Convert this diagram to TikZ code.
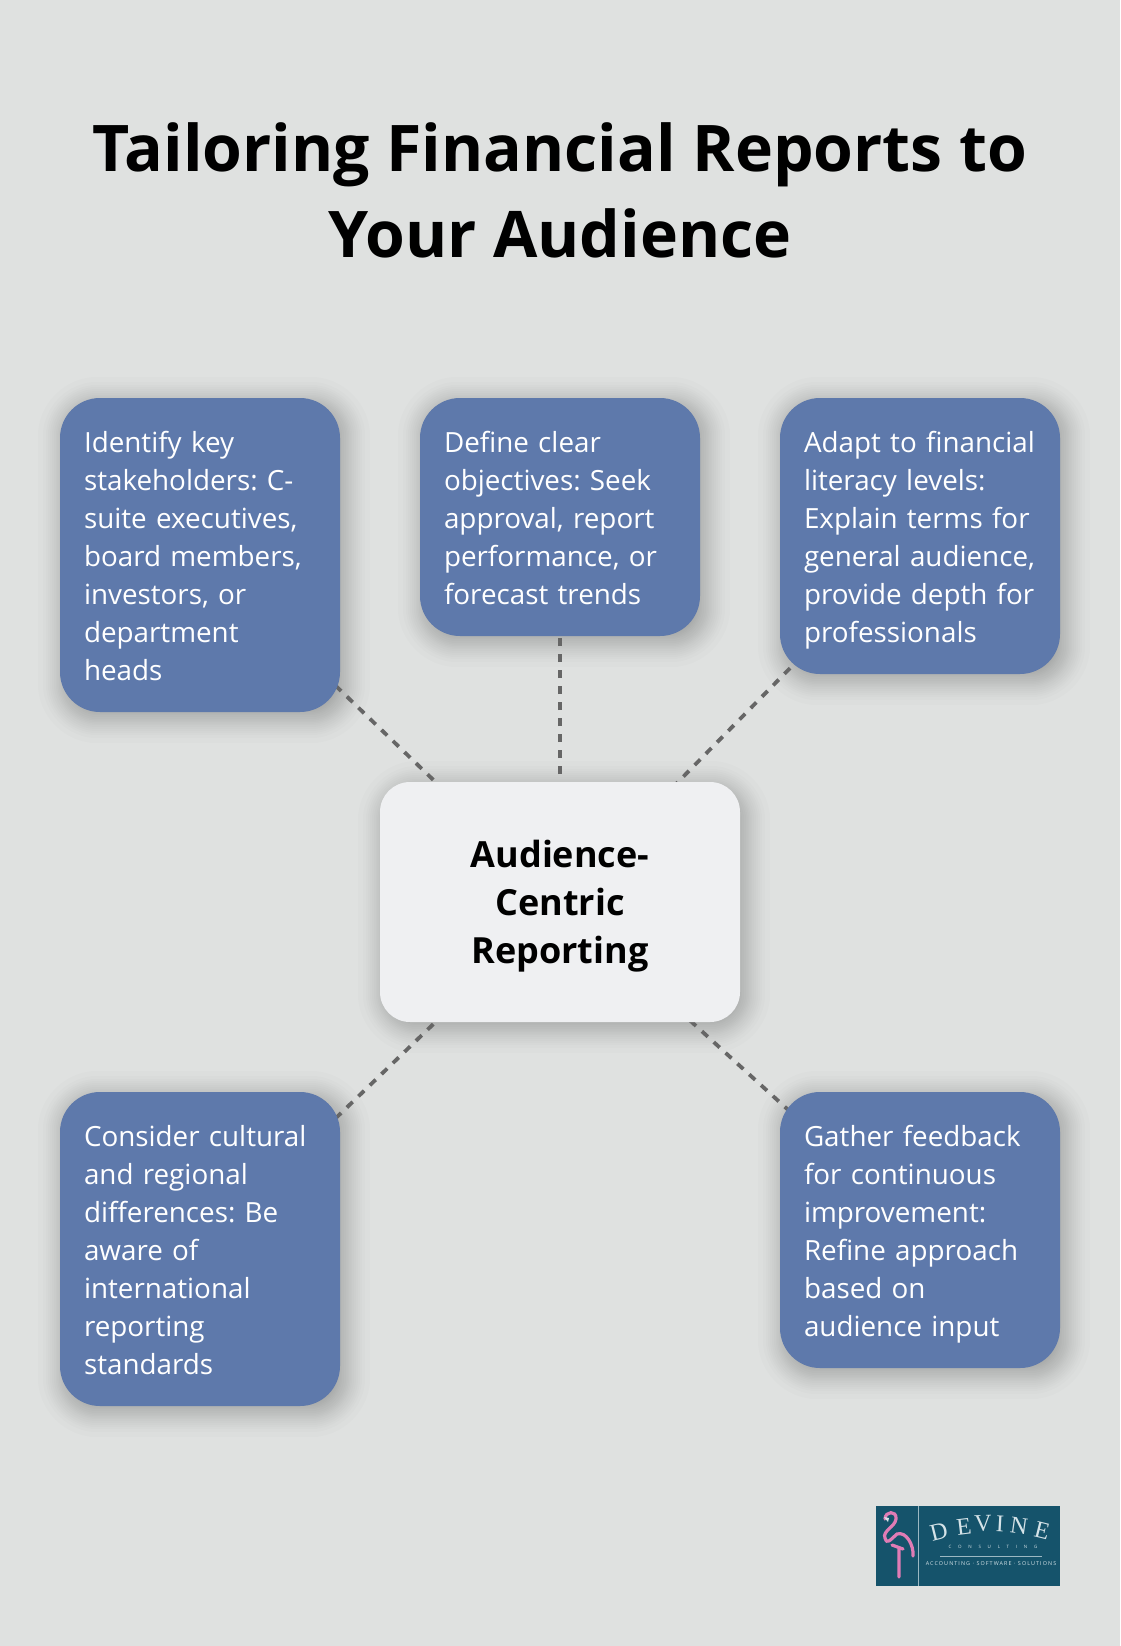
\documentclass[tikz,border=0pt]{standalone}
\usepackage{fontspec}
\setmainfont{Open Sans}
\newfontfamily\logoserif{Liberation Serif}
\newfontfamily\logosans[LetterSpace=20]{Open Sans}
\newfontfamily\logowide[LetterSpace=150]{Open Sans}
\usetikzlibrary{backgrounds}
\definecolor{pagegray}{HTML}{DFE1E0}
\definecolor{tipblue}{HTML}{5E79AB}
\definecolor{hubwhite}{HTML}{EFF0F2}
\definecolor{linkgray}{HTML}{666666}
\definecolor{logoteal}{HTML}{15536B}
\definecolor{logopink}{HTML}{E07CB5}
\definecolor{logopale}{HTML}{D5E3E8}
\pgfdeclarelayer{shade}
\pgfdeclarelayer{links}
\pgfsetlayers{background,shade,links,main}
\newcommand{\tiptop}{\rule{0pt}{35pt}}
\newcommand{\tipend}{\rule[-11.4pt]{0pt}{0pt}}
\newcommand{\hubtop}{\rule{0pt}{42pt}}
\newcommand{\hubend}{\rule[-14.4pt]{0pt}{0pt}}
\tikzset{
  tip/.style={fill=tipblue,text=white,rounded corners=40,text width=232,inner xsep=24,inner ysep=0,
    align=left,font=\fontsize{27.8}{38}\selectfont\frenchspacing,minimum width=280,
    execute at begin node=\tiptop,execute at end node=\tipend},
  hub/.style={fill=hubwhite,rounded corners=30,text width=360,minimum height=240,inner sep=0,
    align=center,font=\fontsize{36}{48}\selectfont\bfseries,
    execute at begin node=\hubtop,execute at end node=\hubend},
  link/.style={draw=linkgray,line width=3.8,dash pattern=on 8 off 8},
  logotxt/.style={text=logopale,inner sep=0},
}
\begin{document}
\begin{tikzpicture}[x=1pt,y=-1pt]
\begin{pgfonlayer}{background}
\fill[pagegray] (0,0) rectangle (1120,1646);
\end{pgfonlayer}
\useasboundingbox (0,0) rectangle (1120,1646);
% title
\node[font=\fontsize{64.3}{86}\selectfont\bfseries,align=center,inner sep=0] (title) at (560,190) {Tailoring Financial Reports to\\Your Audience};
% the five tips and the hub
\node[tip,minimum height=314] (stakeholders) at (200,555) {Identify key\\stakeholders: C-\\suite executives,\\board members,\\investors, or\\department\\heads};
\node[tip,minimum height=238] (objectives) at (560,517) {Define clear\\objectives: Seek\\approval, report\\performance, or\\forecast trends};
\node[tip,minimum height=276] (literacy) at (920,536) {Adapt to financial\\literacy levels:\\Explain terms for\\general audience,\\provide depth for\\professionals};
\node[tip,minimum height=314] (cultural) at (200,1249) {Consider cultural\\and regional\\differences: Be\\aware of\\international\\reporting\\standards};
\node[tip,minimum height=276] (feedback) at (920,1230) {Gather feedback\\for continuous\\improvement:\\Refine approach\\based on\\audience input};
\node[hub] (audience) at (560,902) {Audience-\\Centric\\Reporting};
% shadows
\begin{pgfonlayer}{shade}
\foreach \n in {stakeholders,objectives,literacy,cultural,feedback,audience}
  \foreach \s in {-26,-21,-18,-16,-14,-12,-10,-8,-6.5,-5,-3.5,-2,0,2,3.5,5,6.5,8,10,12,14,16,18,21,26}{
    \pgfmathsetmacro{\cr}{max(6,34+\s)}
    \fill[black,opacity=0.0125,rounded corners=\cr] ([shift={(4-\s,5-\s)}]\n.north west) rectangle ([shift={(4+\s,5+\s)}]\n.south east);
  }
\end{pgfonlayer}
% connectors, running under the boxes
\begin{pgfonlayer}{links}
\foreach \n in {stakeholders,objectives,literacy,cultural,feedback}
  \draw[link] (audience.center) -- (\n.center);
\end{pgfonlayer}
% logo
\node[fill=logoteal,minimum width=184,minimum height=80,inner sep=0] (logo) at (968,1546) {};
\draw[logopale!70!logoteal,line width=0.8] ([xshift=43]logo.north west) -- ([xshift=43]logo.south west);
\draw[logopink,line width=3.2,line cap=round] (885,1519) .. controls (885,1511) and (897,1510) .. (896,1519) .. controls (895,1527) and (882,1531) .. (885,1538) .. controls (887,1545) and (890,1540) .. (897,1534) .. controls (906,1531) and (914,1545) .. (913,1556);
\draw[logopink,line width=3.2,line cap=round] (899,1577) -- (899,1549) (892,1545) -- (903,1549);
\fill[logopale] (884,1517) -- (889,1518) -- (888,1522) -- cycle;
\foreach \ch/\xx/\yy/\rr in {D/939/1532/14,E/964/1527/7,V/983/1524/2,I/1000/1524/-3,N/1019/1526/-8,E/1042/1531/-14}
  \node[logotxt,font=\fontsize{24}{24}\logoserif,rotate=\rr] at (\xx,\yy) {\ch};
\node[logotxt,font=\fontsize{4.5}{6}\logowide] (consulting) at (993,1547) {CONSULTING};
\draw[logopale!70!logoteal,line width=0.5] (940,1556) -- (1042,1556);
\node[logotxt,font=\fontsize{5.4}{6}\logosans] (trades) at (991,1564) {ACCOUNTING · SOFTWARE · SOLUTIONS};
\end{tikzpicture}
\end{document}
